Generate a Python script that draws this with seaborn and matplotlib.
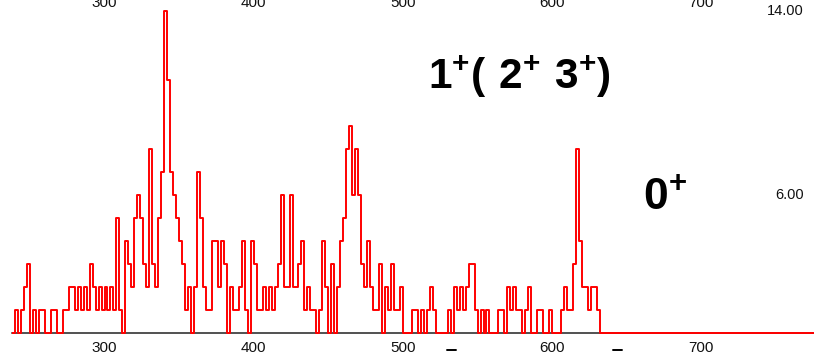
import numpy as np
import pandas as pd
import matplotlib
matplotlib.use("Agg")
import matplotlib.pyplot as plt
from matplotlib.lines import Line2D
import seaborn as sns

# Gamma spectrum: counts per 2-unit channel, first channel starting at 238
BIN_START = 238
BIN_WIDTH = 2
X_END = 776

counts_238_336 = [0, 1, 0, 1, 2, 3, 0, 1, 0, 1,
                  1, 0, 0, 1, 1, 0, 0, 1, 1, 2,
                  2, 1, 2, 1, 2, 1, 3, 2, 1, 2,
                  1, 2, 1, 2, 1, 5, 1, 0, 4, 3,
                  2, 5, 6, 5, 3, 2, 8, 3, 2, 5]
counts_338_436 = [7, 14, 11, 7, 6, 5, 4, 3, 1, 2,
                  0, 2, 7, 5, 2, 1, 1, 4, 4, 2,
                  4, 3, 0, 2, 1, 1, 2, 4, 1, 0,
                  4, 3, 1, 1, 2, 1, 2, 1, 2, 3,
                  6, 2, 2, 6, 2, 2, 3, 4, 1, 2]
counts_438_536 = [1, 1, 0, 1, 4, 2, 0, 3, 0, 2,
                  4, 5, 8, 9, 6, 8, 6, 3, 2, 4,
                  2, 1, 1, 3, 0, 2, 1, 3, 1, 1,
                  2, 0, 0, 0, 1, 1, 0, 1, 0, 1,
                  2, 1, 0, 0, 0, 0, 1, 0, 2, 1]
counts_538_630 = [2, 1, 2, 3, 3, 1, 0, 1, 0, 1,
                  0, 0, 0, 1, 1, 0, 2, 1, 2, 1,
                  1, 0, 1, 2, 0, 0, 1, 1, 0, 0,
                  1, 0, 0, 0, 1, 2, 1, 1, 3, 8,
                  4, 2, 2, 1, 2, 2, 1]

major_ticks = [300, 400, 500, 600, 700]
minor_ticks = [250, 350, 450, 550, 650, 750]
right_ticks = [6, 14]
right_labels = ["6.00", "14.00"]

label_excited = r"$\mathbf{1^{+}(\ 2^{+}\ 3^{+})}$"
label_ground = r"$\mathbf{0^{+}}$"

counts = counts_238_336 + counts_338_436 + counts_438_536 + counts_538_630
centers = BIN_START + BIN_WIDTH * (np.arange(len(counts)) + 0.5)
spectrum = pd.DataFrame({"energy": centers, "counts": counts})

sns.set_style("white")
plt.rcParams["font.family"] = ["Liberation Sans", "DejaVu Sans"]
plt.rcParams["mathtext.fontset"] = "custom"
plt.rcParams["mathtext.rm"] = "Liberation Sans"
plt.rcParams["mathtext.bf"] = "Liberation Sans:bold"

W, H = 814, 352
fig = plt.figure(figsize=(W / 100, H / 100), dpi=100)
ax = fig.add_axes([12 / W, 0, (W - 12) / W, 1])

sns.histplot(data=spectrum, x="energy", weights="counts",
             binwidth=BIN_WIDTH, binrange=(BIN_START, X_END),
             element="step", fill=False, color="#ff0000", linewidth=1.4,
             ax=ax, zorder=3)

ax.set_xlim(238, 775.5)
ax.set_ylim(-0.826, 14.48)
ax.set_xlabel("")
ax.set_ylabel("")

for side in ["top", "right", "left"]:
    ax.spines[side].set_visible(False)
ax.spines["bottom"].set_position(("data", 0))
ax.spines["bottom"].set_color("#222222")
ax.spines["bottom"].set_linewidth(1.1)

ax.set_xticks(major_ticks)
ax.set_xticks(minor_ticks, minor=True)
ax.tick_params(axis="x", which="both", direction="inout", length=7,
               width=1.0, color="#222222", labelsize=11, pad=2,
               labelcolor="#111111")
ax.set_yticks([])

# scale labels repeated along the top edge
top_tr = ax.get_xaxis_transform()
for t in major_ticks:
    ax.text(t, 1 - 7 / H, str(t), transform=top_tr, ha="center",
            va="baseline", fontsize=11, color="#111111")

# count labels on the right
right_tr = ax.get_yaxis_transform()
for v, lab in zip(right_ticks, right_labels):
    ax.text(0.9875, v, lab, transform=right_tr, ha="right",
            va="center", fontsize=10.5, color="#111111")

fig.text(428 / W, 1 - 89 / H, label_excited, fontsize=30.5,
         ha="left", va="baseline", color="black")
fig.text(643 / W, 1 - 210 / H, label_ground, fontsize=32,
         ha="left", va="baseline", color="black")

for x0, x1 in [(447, 456), (613, 622)]:
    fig.add_artist(Line2D([x0 / W, x1 / W], [1 - 349.5 / H] * 2,
                          color="black", linewidth=1.4))

fig.savefig("out.png", dpi=100)
